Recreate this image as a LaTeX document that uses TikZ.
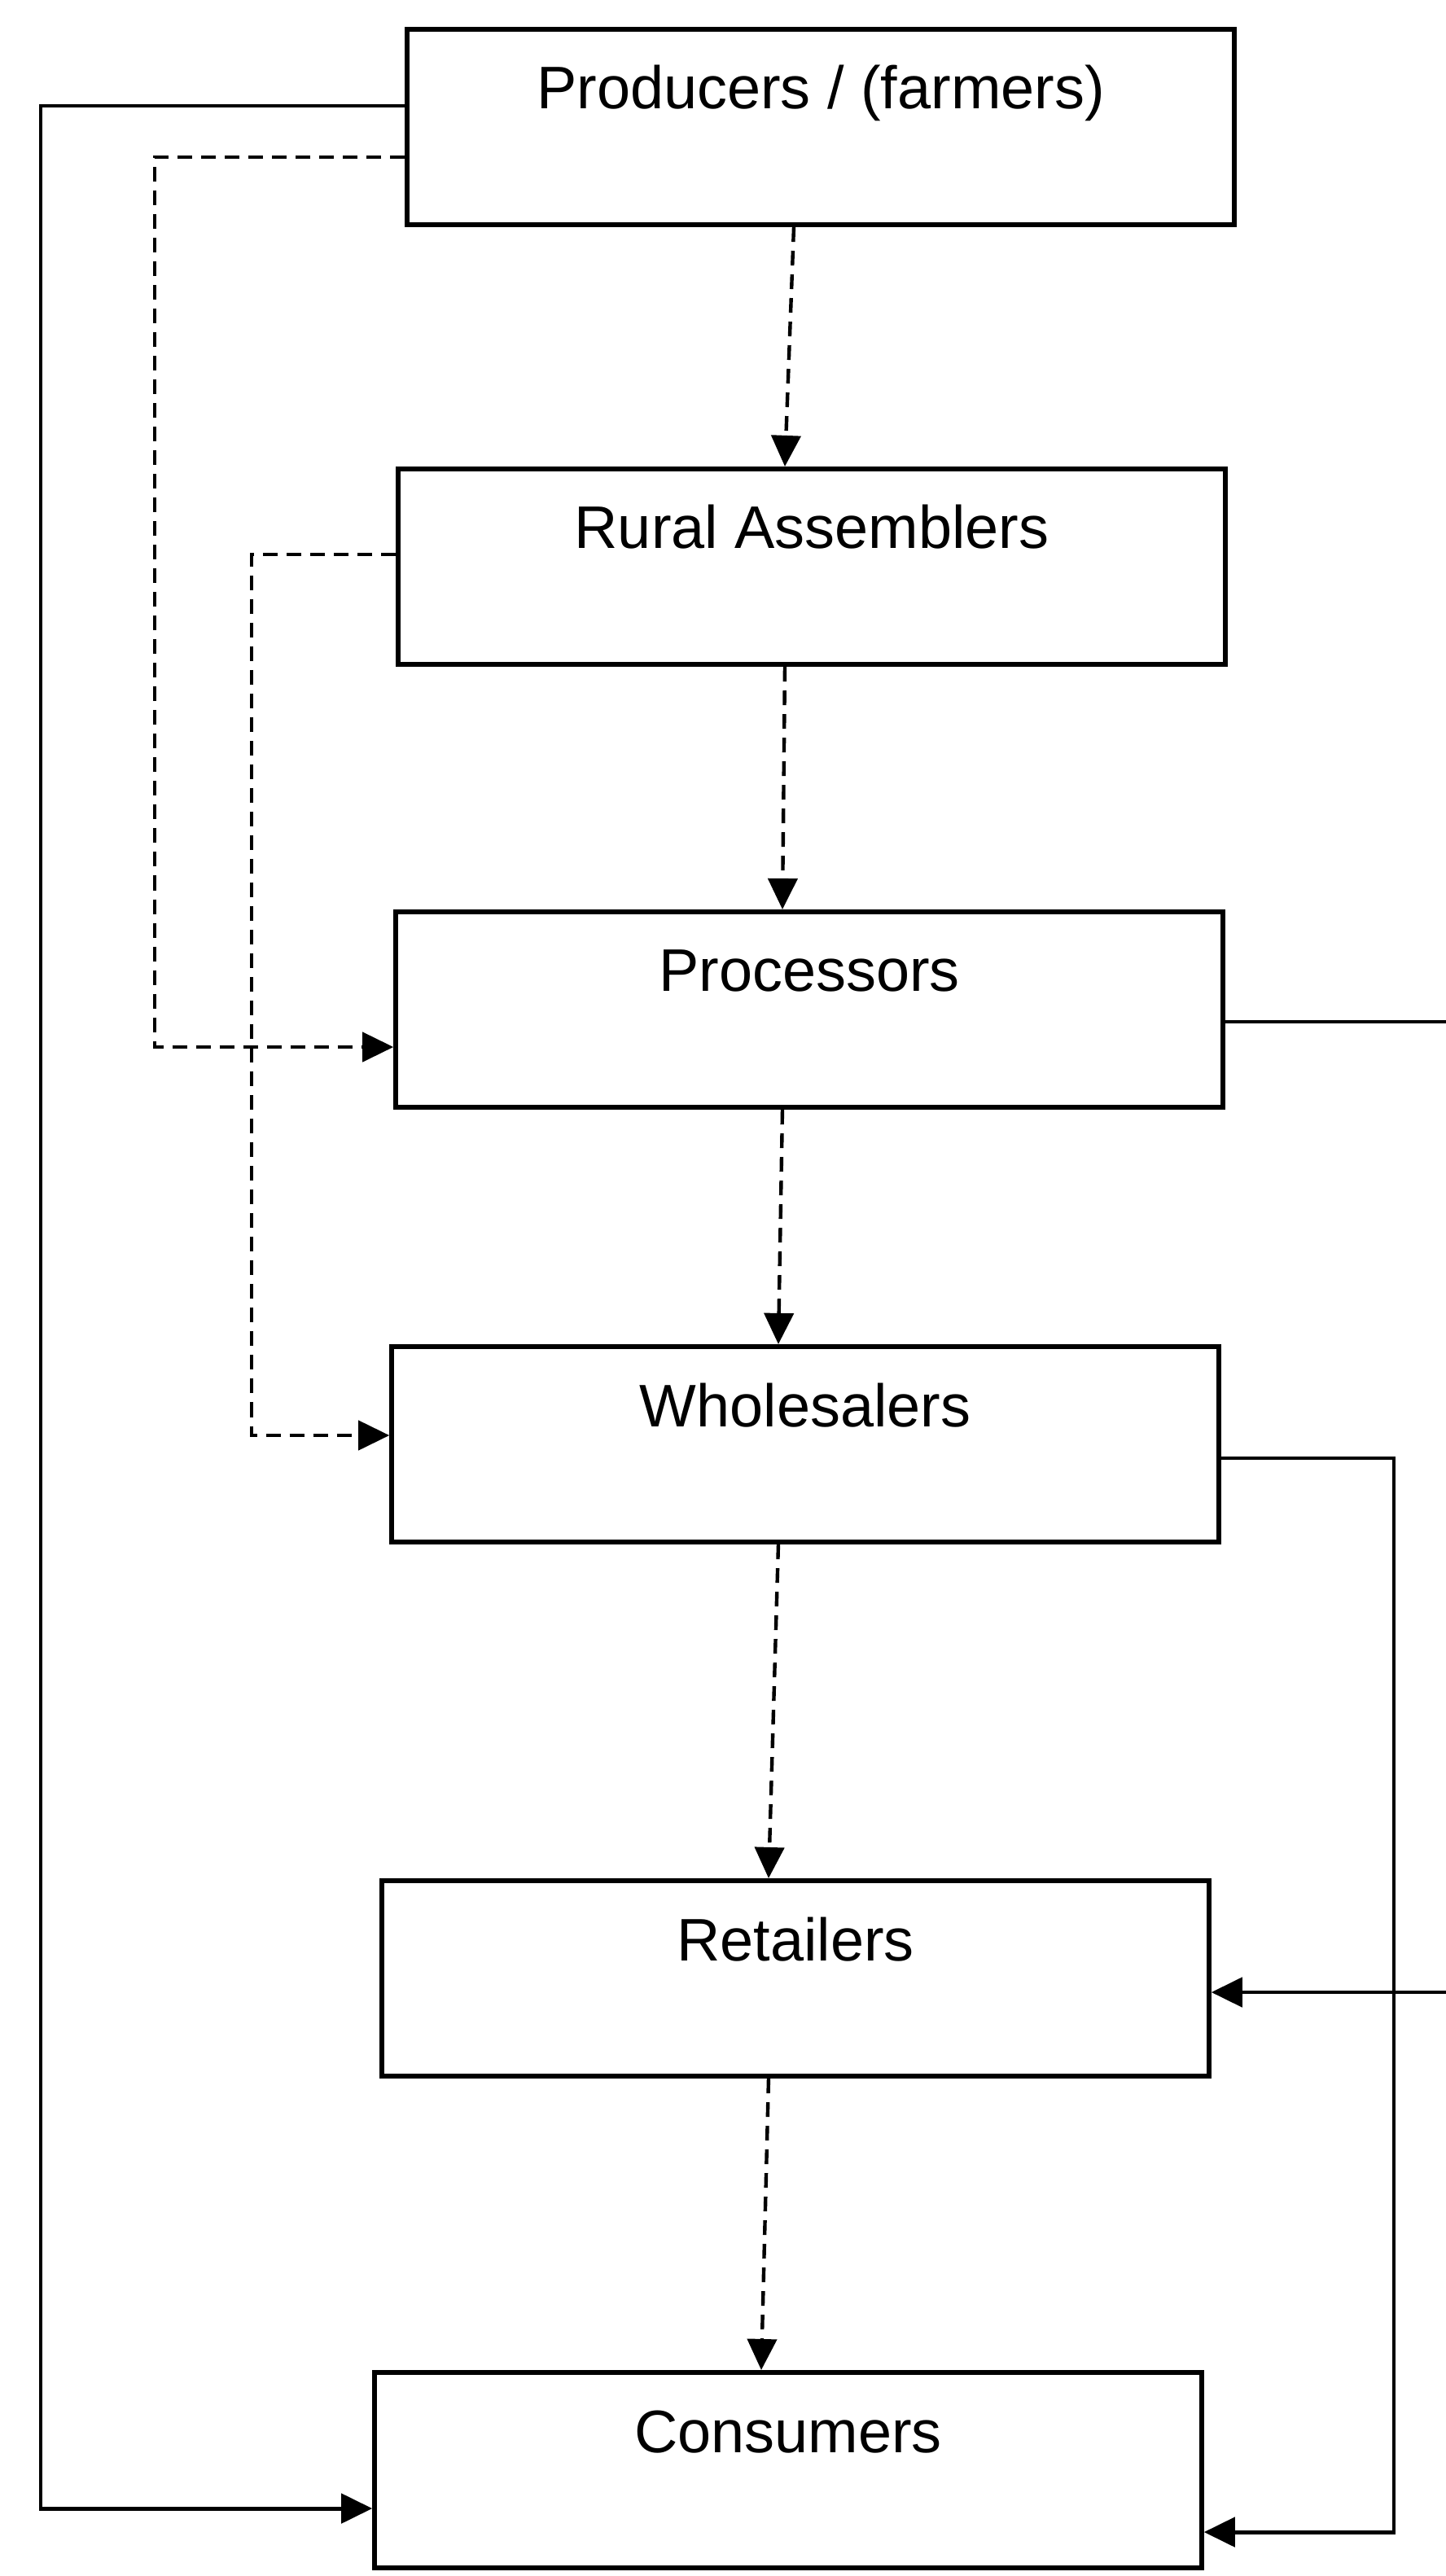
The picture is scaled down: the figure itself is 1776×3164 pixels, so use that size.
\documentclass[tikz,border=0pt]{standalone}
\usepackage{fontspec}
\setmainfont{Liberation Sans}
\usetikzlibrary{positioning,arrows.meta}
\tikzset{
  mkt stage/.style={draw=black,line width=1.7pt,minimum width=10.15cm,minimum height=2.4cm,
    inner sep=0pt,font=\fontsize{21}{24}\selectfont,text height=0.6cm,text depth=1.04cm},
  mkt direct/.style={-{Triangle[length=3.8mm,width=3.6mm]},line width=1.4pt,black},
  mkt channel/.style={mkt direct,line width=1.25pt,dash pattern=on 1.8mm off 1.1mm}
}

\begin{document}
\begin{tikzpicture}[x=0.01cm,y=-0.01cm]
  \useasboundingbox (0,0) rectangle (1776,3164);

  \node[mkt stage] (prod) at (1008,156) {Producers / (farmers)};
  \node[mkt stage] (rural) at (997,696) {Rural Assemblers};
  \node[mkt stage] (proc) at (994,1240) {Processors};
  \node[mkt stage] (whole) at (989,1774) {Wholesalers};
  \node[mkt stage] (retail) at (977,2430) {Retailers};
  \node[mkt stage] (cons) at (968,3034) {Consumers};

  % rails for the side channels
  \coordinate (farleft) at (50,1600);
  \coordinate (dashleft) at (190,700);
  \coordinate (dashinner) at (309,1200);
  \coordinate (offright) at (1830,1800);
  \coordinate (wholeright) at (1712,2400);

  % main chain, one stage to the next
  \foreach \a/\b in {prod/rural,rural/proc,proc/whole,whole/retail,retail/cons}
    \draw[mkt channel] ([xshift=-0.33cm]\a.south) -- ([xshift=-0.33cm]\b.north);

  % bypassing stages on the left
  \draw[mkt direct] ([yshift=0.26cm]prod.west) -| (farleft) |- ([yshift=-0.47cm]cons.west);
  \draw[mkt channel] ([yshift=-0.37cm]prod.west) -| (dashleft) |- ([yshift=-0.46cm]proc.west);
  \draw[mkt channel] ([yshift=0.15cm]rural.west) -| (dashinner) |- ([yshift=0.11cm]whole.west);

  % bypassing stages on the right
  \draw[mkt direct] ([yshift=-0.15cm]proc.east) -| (offright) |- ([yshift=-0.17cm]retail.east);
  \draw[mkt direct] ([yshift=-0.17cm]whole.east) -| (wholeright) |- ([yshift=-0.76cm]cons.east);
\end{tikzpicture}
\end{document}
